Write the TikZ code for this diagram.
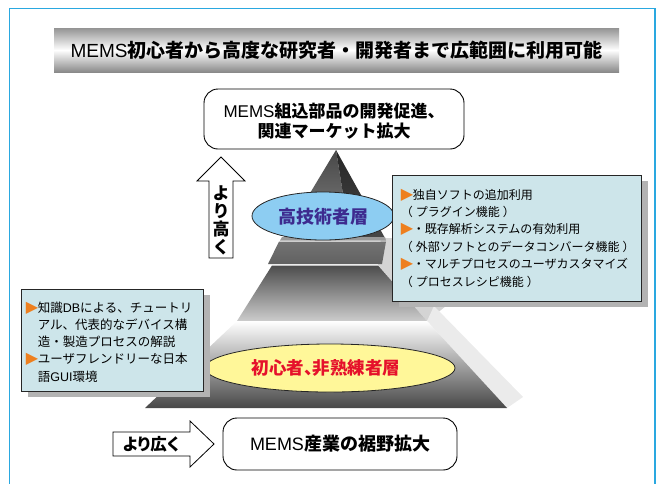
\documentclass[tikz,border=0pt]{standalone}
\usepackage{fontspec}
\setmainfont{Liberation Sans}
\newfontfamily\jp{Noto Sans CJK JP}
\newfontfamily\jpp[RawFeature=+palt]{Noto Sans CJK JP}
\newfontfamily\lat{Liberation Sans}
\newfontfamily\dv{DejaVu Sans}
\usetikzlibrary{shapes.geometric,shadows}
\definecolor{framecol}{HTML}{2AA8E0}
\definecolor{boxfill}{HTML}{CDE5EA}
\definecolor{shadowgray}{HTML}{B3B3B3}
\definecolor{skyfill}{HTML}{8DCDF2}
\definecolor{yellowfill}{HTML}{FFF799}
\definecolor{navytext}{HTML}{3D2B8F}
\definecolor{redtext}{HTML}{E5112B}
\definecolor{triorange}{HTML}{EE7F1E}
\newcommand\tri{\makebox[12pt][l]{{\dv\fontsize{16}{12}\selectfont\color{triorange}▶}}}
\newcommand\psp{\hspace{3pt}}
\begin{document}
\begin{tikzpicture}[x=1pt,y=-1pt,
  infobox/.style={draw=black!85, fill=boxfill, line width=0.8pt, inner sep=0pt,
    drop shadow={shadow xshift=7pt, shadow yshift=-6pt, fill=shadowgray, opacity=1}},
  roundbox/.style={draw=black, fill=white, rounded corners=14pt, line width=0.9pt, inner sep=0pt},
  arrowshape/.style={draw=black, fill=white, line width=0.8pt},
  bigtxt/.style={font=\jp\bfseries\fontsize{17}{20}\selectfont, align=center, inner sep=0pt},
  smalltxt/.style={font=\jp\fontsize{12}{17.4}\selectfont, align=left, inner sep=0pt},
  layerellipse/.style={ellipse, draw=black!85, line width=0.8pt, inner sep=0pt}]
\useasboundingbox (0,0) rectangle (660,483);
% outer frame
\draw[framecol, line width=1.4pt] (9.5,484) -- (9.5,8.5) -- (655,8.5) -- (655,484);
% title banner
\shade[top color=black!42, bottom color=black!46, middle color=white] (54,28) rectangle (619,72);
\node[font=\jp\bfseries\fontsize{19}{22}\selectfont, inner sep=0pt] (title) at (336.5,50)
  {{\lat\mdseries MEMS}初心者から高度な研究者・開発者まで広範囲に利用可能};
% ---------- pyramid ----------
% top pyramid
\shade[top color=black!72, bottom color=black!48] (336,150) -- (283,238) -- (350,238) -- cycle;
\shade[top color=black!85, bottom color=black!72] (336,150) -- (350,238) -- (385,238) -- cycle;
% light right face of middle tier
\fill[black!17] (381,238) -- (396,238) -- (446,306) -- (427,321) -- (378,265) -- cycle;
% middle slices
\fill[black!40] (282,237) -- (385,237) -- (386,240.5) -- (280,240.5) -- cycle;
\shade[top color=black!55, bottom color=black!62] (279,241.5) -- (386,241.5) -- (382,264) -- (268,264) -- cycle;
\shade[top color=black!70, bottom color=black!20] (272,265.5) -- (378,265.5) -- (427,321) -- (237,321) -- cycle;
% bottom tier
\fill[black!8] (427,321) -- (434,306) -- (523,397) -- (507,408) -- cycle;
\shade[top color=white, bottom color=black!72] (237,321) -- (427,321) -- (507,408) -- (145,408) -- cycle;
% layer ellipses
\node[layerellipse, fill=skyfill, minimum width=142pt, minimum height=48pt] (expert) at (323,216) {};
\node[font=\jp\bfseries\fontsize{18}{20}\selectfont, text=navytext, inner sep=0pt] (expertlbl) at (323,217) {高技術者層};
\node[layerellipse, fill=yellowfill, minimum width=250pt, minimum height=48pt] (novice) at (330,368) {};
\node[font=\jpp\bfseries\fontsize{17.5}{20}\selectfont, text=redtext, inner sep=0pt] (novicelbl) at (326,368) {初心者、非熟練者層};
% ---------- top and bottom goals ----------
\node[roundbox, minimum width=260pt, minimum height=60pt] (topgoal) at (334,119) {};
\node[bigtxt] (topgoaltxt) at (334,121) {{\lat\mdseries MEMS}組込部品の開発促進、\\関連マーケット拡大};
\node[roundbox, minimum width=234pt, minimum height=52pt] (botgoal) at (340,444) {};
\node[font=\jp\bfseries\fontsize{18}{20}\selectfont, inner sep=0pt] (botgoaltxt) at (340,444) {{\lat\mdseries MEMS}産業の裾野拡大};
% ---------- arrows ----------
\draw[arrowshape] (221,157) -- (245,181) -- (233,181) -- (233,258) -- (209,258) -- (209,181) -- (197,181) -- cycle;
\node[font=\jp\bfseries\fontsize{17}{18}\selectfont, align=center, inner sep=0pt] (higher) at (221,220) {よ\\り\\高\\く};
\draw[arrowshape] (113,432) -- (190,432) -- (190,421) -- (214,444) -- (190,467) -- (190,456) -- (113,456) -- cycle;
\node[font=\jpp\bfseries\fontsize{16.5}{18}\selectfont, inner sep=0pt] (wider) at (151,444) {より広く};
% ---------- info boxes ----------
\node[infobox, minimum width=249pt, minimum height=126pt] (rbox) at (516.5,238) {};
\node[smalltxt, anchor=west] (rtext) at ([xshift=9pt]rbox.west)
  {\tri 独自ソフトの追加利用\\
   （\psp プラグイン機能\psp ）\\
   \tri ・既存解析システムの有効利用\\
   （\psp 外部ソフトとのデータコンバータ機能\psp ）\\
   \tri ・マルチプロセスのユーザカスタマイズ\\
   （\psp プロセスレシピ機能\psp ）};
\node[infobox, minimum width=182pt, minimum height=102pt] (lbox) at (112,340) {};
\node[smalltxt, font=\jp\fontsize{12.5}{17.2}\selectfont, anchor=west] (ltext) at ([xshift=5pt,yshift=-2pt]lbox.west)
  {\tri 知識{\lat DB}による、チュートリ\\
   \hspace*{12pt}アル、代表的なデバイス構\\
   \hspace*{12pt}造・製造プロセスの解説\\
   \tri ユーザフレンドリーな日本\\
   \hspace*{12pt}語{\lat GUI}環境};
\end{tikzpicture}
\end{document}
